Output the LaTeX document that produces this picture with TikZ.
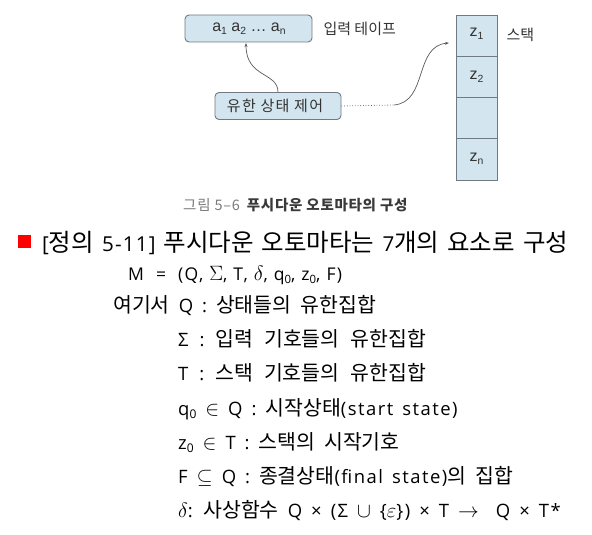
\documentclass[tikz,border=0pt]{standalone}
\usepackage{fontspec}
\setmainfont{Noto Sans CJK KR}
\newfontfamily\latn[Scale=0.9, LetterSpace=8]{Open Sans}
\newfontfamily\latnt[Scale=0.84, LetterSpace=6]{Open Sans}
\newfontfamily\krcap[LetterSpace=5]{Noto Sans CJK KR}
\newfontfamily\krspw[LetterSpace=9]{Noto Sans CJK KR}
\newfontfamily\latinsf{Liberation Sans}
\usetikzlibrary{arrows.meta}
\definecolor{boxfill}{HTML}{D3E6F0}
\definecolor{boxline}{HTML}{6F7A82}
\definecolor{capgray}{HTML}{7A7A7A}
\definecolor{capdark}{HTML}{3A3A3A}
\newcommand{\lowsub}[1]{\raisebox{-0.35ex}{\scalebox{0.65}{#1}}}
\tikzset{
  box/.style={draw=boxline, fill=boxfill, line width=0.9pt, rounded corners=4pt, inner sep=0pt},
  cell/.style={draw=boxline, fill=boxfill, line width=0.9pt, minimum width=41pt, inner sep=0pt},
  dtext/.style={font=\fontsize{15}{17}\selectfont, text=black!80},
  ltext/.style={font=\latinsf\fontsize{16}{18}\selectfont, text=black!80},
  line/.style={anchor=base west, inner sep=0pt, font={\fontsize{20.5}{24}\selectfont\spaceskip=9pt\relax}},
  conn/.style={draw=black!65, line width=0.7pt},
}
\begin{document}
\begin{tikzpicture}[x=1pt,y=-1pt]
\useasboundingbox (0,0) rectangle (592,535);
% input tape
\node[box, minimum width=127pt, minimum height=27pt] (tape) at (248.5,28.5) {};
\node[ltext] (tapetxt) at (249,29) {a\lowsub{1} a\lowsub{2} … a\lowsub{n}};
\node[dtext, anchor=west] (tapelbl) at (320,29) {입력 테이프};
% finite control
\node[box, minimum width=126pt, minimum height=27pt] (ctrl) at (278,106) {};
\node[dtext, font=\krspw\fontsize{15}{17}\selectfont] (ctrltxt) at (275,106) {유한 상태 제어};
% stack
\node[cell, minimum height=41pt] (s1) at (476.5,35.5) {};
\node[cell, minimum height=41pt] (s2) at (476.5,76.5) {};
\node[cell, minimum height=41pt] (s3) at (476.5,117.5) {};
\node[cell, minimum height=42pt] (s4) at (476.5,159) {};
\node[ltext] (z1) at (476.5,34) {z\lowsub{1}};
\node[ltext] (z2) at (476.5,77) {z\lowsub{2}};
\node[ltext] (zn) at (476.5,159) {z\lowsub{n}};
\node[dtext, anchor=west] (stacklbl) at (503,35) {스택};
% connectors
\coordinate (tapein) at (246,43);
\coordinate (dotend) at (394,105);
\coordinate (stackin) at (449,43);
\draw[conn, -{Stealth[length=4pt,width=3pt]}] (ctrl.north) .. controls (278,72) and (246,78) .. (tapein);
\draw[conn, dotted, line width=0.8pt] (ctrl.east) -- (dotend);
\draw[conn, -{Stealth[length=4pt,width=3pt]}] (dotend) .. controls (428,102) and (414,46) .. (stackin);
% caption
\node[anchor=base west, inner sep=0pt, font=\krcap\fontsize{14.5}{16}\selectfont, text=capgray] (cap) at (183,210) {그림 5\textendash6\hspace{7pt}\textcolor{capdark}{\textbf{푸시다운 오토마타의 구성}}};
% definition
\node[fill=red, minimum size=13pt, inner sep=0pt] (bullet) at (24.5,241.5) {};
\node[line, font={\fontsize{24.5}{28}\selectfont\spaceskip=8pt\relax}] (title) at (42,251) {{\latnt [}정의 {\latnt 5-11]} 푸시다운 오토마타는 {\latnt 7}개의 요소로 구성};
\node[line, font={\fontsize{19.5}{24}\selectfont\spaceskip=6pt\relax}] (mline) at (128,280) {{\latn M}\hspace{12pt}{\latn =}\hspace{12pt}{\latn (Q,} $\Sigma${\latn ,} {\latn T,} $\delta${\latn ,} {\latn q\lowsub{0},} {\latn z\lowsub{0},} {\latn F)}};
\node[line] (qline) at (113,312) {여기서 {\latn Q :} 상태들의 유한집합};
\node[line, font={\fontsize{20.5}{24}\selectfont\spaceskip=11pt\relax}] (sline) at (178,346) {{\latn Σ :} 입력 기호들의 유한집합};
\node[line, font={\fontsize{20.5}{24}\selectfont\spaceskip=11pt\relax}] (tline) at (178,380) {{\latn T :} 스택 기호들의 유한집합};
\node[line] (q0line) at (178,415) {{\latn q\lowsub{0}} $\in$ {\latn Q :} 시작상태{\latn (start state)}};
\node[line] (z0line) at (178,449) {{\latn z\lowsub{0}} $\in$ {\latn T :} 스택의 시작기호};
\node[line] (fline) at (178,483) {{\latn F} $\subseteq$ {\latn Q :} 종결상태{\latn (final state)}의 집합};
\node[line] (dline) at (178,517) {$\delta${\latn :} 사상함수 {\latn Q × (Σ} $\cup$ {\latn \{}$\varepsilon${\latn \}) × T} $\rightarrow$ \hspace{8pt}{\latn Q × T*}};
\end{tikzpicture}
\end{document}
